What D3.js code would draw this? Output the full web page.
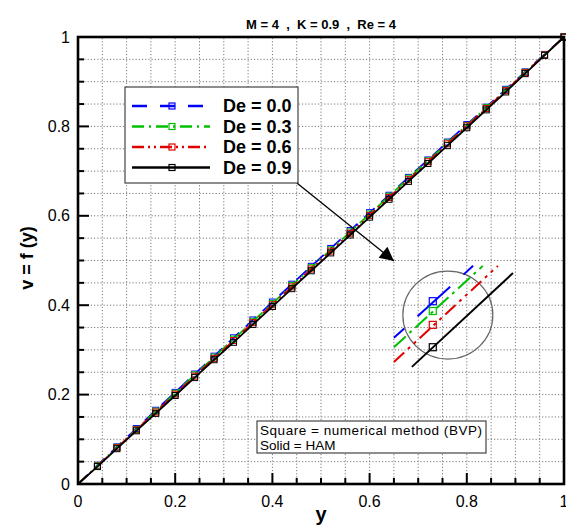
<!DOCTYPE html>
<html lang="en">
<head>
    <meta charset="UTF-8">
    <title>v = f(y) for several De</title>
    <script src="https://d3js.org/d3.v7.min.js"></script>
    <style>
        body { margin: 0; background: white; font-family: "Liberation Sans", Arial, sans-serif; }
        #vis { display: block; }
    </style>
</head>
<body>
    <svg id="vis"></svg>
    <script>
        const width = 566;
        const height = 526;

        // marker / sample positions along y
        const yValues = [0, 0.04, 0.08, 0.12, 0.16, 0.2, 0.24, 0.28, 0.32, 0.36, 0.4, 0.44, 0.48,
            0.52, 0.56, 0.6, 0.64, 0.68, 0.72, 0.76, 0.8, 0.84, 0.88, 0.92, 0.96, 1.0];

        const de00 = [0, 0.042, 0.083, 0.124, 0.165, 0.205, 0.246, 0.286, 0.327, 0.367, 0.407, 0.447, 0.487,
            0.527, 0.567, 0.607, 0.646, 0.686, 0.725, 0.765, 0.804, 0.843, 0.883, 0.922, 0.961, 1.0];
        const de03 = [0, 0.041, 0.082, 0.122, 0.163, 0.203, 0.244, 0.284, 0.324, 0.364, 0.404, 0.444, 0.484,
            0.524, 0.564, 0.604, 0.644, 0.684, 0.723, 0.763, 0.802, 0.842, 0.881, 0.921, 0.960, 1.0];
        const de06 = [0, 0.040, 0.081, 0.121, 0.161, 0.201, 0.241, 0.281, 0.321, 0.361, 0.401, 0.441, 0.481,
            0.521, 0.561, 0.601, 0.641, 0.681, 0.721, 0.761, 0.801, 0.840, 0.880, 0.920, 0.960, 1.0];
        const de09 = [0, 0.039, 0.079, 0.119, 0.158, 0.198, 0.238, 0.278, 0.317, 0.357, 0.397, 0.437, 0.477,
            0.517, 0.557, 0.597, 0.637, 0.677, 0.717, 0.757, 0.797, 0.837, 0.877, 0.918, 0.959, 1.0];

        const seriesNames = ["De = 0.0", "De = 0.3", "De = 0.6", "De = 0.9"];
        const seriesValues = [de00, de03, de06, de09];
        const seriesColors = ["#0000ff", "#00c000", "#e00000", "#000000"];
        const seriesDash = ["14,9", "12,5,2,5", "12,4,2,4,2,4", null];

        const tickValues = [0, 0.2, 0.4, 0.6, 0.8, 1];
        const tickLabels = ["0", "0.2", "0.4", "0.6", "0.8", "1"];

        // magnified detail inside the circle (in chart data units)
        const insetStart = [[0.650, 0.327], [0.650, 0.306], [0.650, 0.273], [0.687, 0.262]];
        const insetEnd = [[0.813, 0.488], [0.833, 0.488], [0.864, 0.488], [0.895, 0.472]];
        const insetMarkers = [[0.730, 0.409], [0.730, 0.387], [0.730, 0.356], [0.730, 0.306]];
        const insetCenter = [0.761, 0.378];
        const arrowFrom = [0.451, 0.673];
        const arrowTo = [0.650, 0.499];

        const margin = { top: 37, right: 2, bottom: 42, left: 78 };
        const x = d3.scaleLinear().domain([0, 1]).range([margin.left, width - margin.right]);
        const y = d3.scaleLinear().domain([0, 1]).range([height - margin.bottom, margin.top]);

        const svg = d3.select("#vis").attr("width", width).attr("height", height);

        // dotted grid
        const gridVals = d3.range(1, 20).map(i => i / 20);
        const grid = svg.append("g")
            .attr("stroke", "#7a7a7a")
            .attr("stroke-width", 1)
            .attr("stroke-dasharray", "1.2,2");
        grid.selectAll(".gx").data(gridVals).join("line")
            .attr("x1", d => x(d)).attr("x2", d => x(d))
            .attr("y1", y(0)).attr("y2", y(1));
        grid.selectAll(".gy").data(gridVals).join("line")
            .attr("class", "gy")
            .attr("y1", d => y(d)).attr("y2", d => y(d))
            .attr("x1", x(0)).attr("x2", x(1));

        // inward ticks
        const minorTicks = d3.range(1, 20).map(i => i / 20);
        const ticks = svg.append("g").attr("stroke", "black").attr("stroke-width", 2);
        ticks.selectAll(".tx").data(minorTicks).join("line")
            .attr("class", "tx")
            .attr("x1", d => x(d)).attr("x2", d => x(d))
            .attr("y1", y(0)).attr("y2", d => y(0) - (Math.round(d * 20) % 4 === 0 ? 11 : 6));
        ticks.selectAll(".ty").data(minorTicks).join("line")
            .attr("class", "ty")
            .attr("y1", d => y(d)).attr("y2", d => y(d))
            .attr("x1", x(0)).attr("x2", d => x(0) + (Math.round(d * 20) % 4 === 0 ? 11 : 6));

        // curves
        const line = d3.line().x(d => x(d[0])).y(d => y(d[1]));
        seriesValues.forEach((vals, i) => {
            const pts = yValues.map((v, j) => [v, vals[j]]);
            svg.append("path")
                .datum(pts)
                .attr("d", line)
                .attr("fill", "none")
                .attr("stroke", seriesColors[i])
                .attr("stroke-width", 1.8)
                .attr("stroke-dasharray", seriesDash[i]);
            svg.append("g").selectAll("rect").data(pts.slice(1)).join("rect")
                .attr("x", d => x(d[0]) - 3).attr("y", d => y(d[1]) - 3)
                .attr("width", 6).attr("height", 6)
                .attr("fill", "none")
                .attr("stroke", seriesColors[i])
                .attr("stroke-width", 1);
        });

        // frame
        svg.append("rect")
            .attr("x", x(0)).attr("y", y(1))
            .attr("width", x(1) - x(0)).attr("height", y(0) - y(1))
            .attr("fill", "none").attr("stroke", "black").attr("stroke-width", 2.6);

        // tick labels
        svg.append("g").selectAll("text").data(tickValues).join("text")
            .attr("x", d => x(d)).attr("y", y(0) + 23)
            .attr("text-anchor", "middle")
            .attr("font-size", 16)
            .text((d, i) => tickLabels[i]);
        svg.append("g").selectAll("text").data(tickValues).join("text")
            .attr("x", x(0) - 8).attr("y", d => y(d))
            .attr("dy", "0.35em")
            .attr("text-anchor", "end")
            .attr("font-size", 16)
            .text((d, i) => tickLabels[i]);

        // titles
        svg.append("text")
            .attr("x", 321).attr("y", 29)
            .attr("text-anchor", "middle")
            .attr("font-size", 13).attr("font-weight", "bold")
            .attr("xml:space", "preserve")
            .text("M = 4  ,  K = 0.9  ,  Re = 4");
        svg.append("text")
            .attr("x", (x(0) + x(1)) / 2).attr("y", 521)
            .attr("text-anchor", "middle")
            .attr("font-size", 20).attr("font-weight", "bold")
            .text("y");
        svg.append("text")
            .attr("transform", "translate(33,258) rotate(-90)")
            .attr("text-anchor", "middle")
            .attr("font-size", 18).attr("font-weight", "bold")
            .text("v = f (y)");

        // legend
        const legend = svg.append("g").attr("transform", "translate(125,87)");
        legend.append("rect")
            .attr("width", 173).attr("height", 96)
            .attr("fill", "white").attr("stroke", "#444").attr("stroke-width", 1.2);
        seriesNames.forEach((name, i) => {
            const ly = 19 + i * 20.5;
            legend.append("line")
                .attr("x1", 7).attr("x2", 85).attr("y1", ly).attr("y2", ly)
                .attr("stroke", seriesColors[i]).attr("stroke-width", 2.4)
                .attr("stroke-dasharray", i === 0 ? "15,13" : seriesDash[i]);
            legend.append("rect")
                .attr("x", 44).attr("y", ly - 3).attr("width", 6).attr("height", 6)
                .attr("fill", "none").attr("stroke", seriesColors[i]).attr("stroke-width", 1.2);
            legend.append("text")
                .attr("x", 98).attr("y", ly).attr("dy", "0.36em")
                .attr("font-size", 18).attr("font-weight", "bold")
                .text(name);
        });

        // arrow pointing to the magnified detail
        const defs = svg.append("defs");
        defs.append("marker")
            .attr("id", "head").attr("viewBox", "0 0 10 10")
            .attr("refX", 10).attr("refY", 5)
            .attr("markerWidth", 18).attr("markerHeight", 14)
            .attr("markerUnits", "userSpaceOnUse")
            .attr("orient", "auto")
            .append("path").attr("d", "M0,0L10,5L0,10Z").attr("fill", "black");
        svg.append("line")
            .attr("x1", x(arrowFrom[0])).attr("y1", y(arrowFrom[1]))
            .attr("x2", x(arrowTo[0])).attr("y2", y(arrowTo[1]))
            .attr("stroke", "black").attr("stroke-width", 1.3)
            .attr("marker-end", "url(#head)");

        // magnified detail
        svg.append("ellipse")
            .attr("cx", x(insetCenter[0])).attr("cy", y(insetCenter[1]))
            .attr("rx", 45).attr("ry", 44)
            .attr("fill", "none").attr("stroke", "#666").attr("stroke-width", 1.2);
        const insetDash = ["44,18", "16,5,3,5", "14,5,3,5,3,5", null];
        seriesNames.forEach((name, i) => {
            svg.append("line")
                .attr("x1", x(insetStart[i][0])).attr("y1", y(insetStart[i][1]))
                .attr("x2", x(insetEnd[i][0])).attr("y2", y(insetEnd[i][1]))
                .attr("stroke", seriesColors[i]).attr("stroke-width", 2)
                .attr("stroke-dasharray", insetDash[i])
                .attr("stroke-dashoffset", i === 0 ? 30 : 0);
            svg.append("rect")
                .attr("x", x(insetMarkers[i][0]) - 3.5).attr("y", y(insetMarkers[i][1]) - 3.5)
                .attr("width", 7).attr("height", 7)
                .attr("fill", "none").attr("stroke", seriesColors[i]).attr("stroke-width", 1.2);
        });

        // note box
        const note = svg.append("g").attr("transform", "translate(257,421)");
        note.append("rect")
            .attr("width", 229).attr("height", 32)
            .attr("fill", "white").attr("stroke", "#444").attr("stroke-width", 1.2);
        note.append("text").attr("x", 3).attr("y", 14).attr("font-size", 13.5)
            .attr("textLength", 222).attr("lengthAdjust", "spacing")
            .text("Square = numerical method (BVP)");
        note.append("text").attr("x", 3).attr("y", 28.5).attr("font-size", 13.5)
            .text("Solid = HAM");
    </script>
</body>
</html>
